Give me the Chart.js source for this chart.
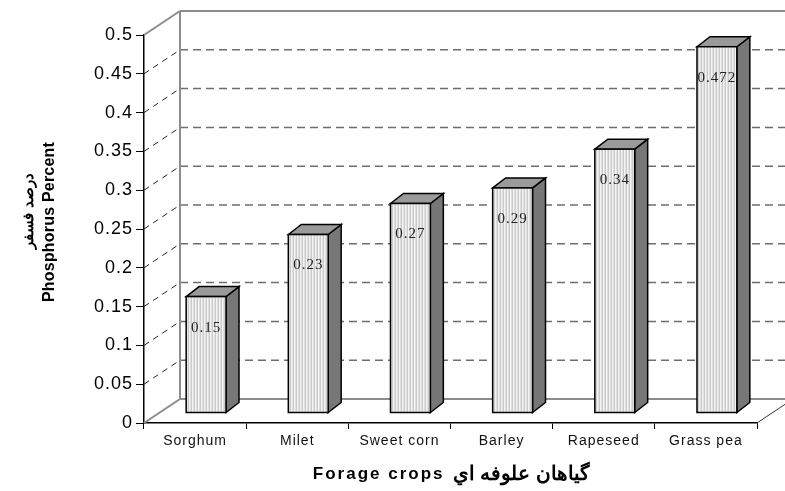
<!DOCTYPE html>
<html>
<head>
<meta charset="utf-8">
<script src="https://cdn.jsdelivr.net/npm/chart.js@4"></script>
<style>
  html, body { margin: 0; padding: 0; background: #fff; }
  #wrap { width: 785px; height: 491px; }
</style>
</head>
<body>
<div id="wrap"><canvas id="phChart"></canvas></div>
<script>
// Crop names and phosphorus values
const crops = ['Sorghum', 'Milet', 'Sweet corn', 'Barley', 'Rapeseed', 'Grass pea'];
const phosphorus = [0.15, 0.23, 0.27, 0.29, 0.34, 0.472];
const yTicks = [0, 0.05, 0.1, 0.15, 0.2, 0.25, 0.3, 0.35, 0.4, 0.45, 0.5];
const xTitleFa = 'گیاهان علوفه اي';
const xTitleEn = 'Forage crops';
const yTitleFa = 'درصد فسفر';
const yTitleEn = 'Phosphorus Percent';

// 3D look (pixels)
const wall = { dx: 36, dy: -24 };      // depth of the chart box
const barShift = { dx: 11, dy: -10 };  // bars stand inside the box
const barDepth = { dx: 13, dy: -10 };

// vertical stripe fill for the bar faces
function stripes() {
    const c = document.createElement('canvas');
    c.width = 3; c.height = 1;
    const g = c.getContext('2d');
    ['#f3f3f3', '#e0e0e0', '#cbcbcb'].forEach((col, i) => {
        g.fillStyle = col;
        g.fillRect(i, 0, 1, 1);
    });
    return g.createPattern(c, 'repeat');
}

function line(ctx, x1, y1, x2, y2) {
    ctx.beginPath();
    ctx.moveTo(x1, y1);
    ctx.lineTo(x2, y2);
    ctx.stroke();
}

const box3d = {
    id: 'box3d',
    beforeDraw(chart) {
        // the original labels are a bit spaced out
        chart.ctx.letterSpacing = '1px';
    },
    beforeDatasetsDraw(chart) {
        const { ctx, chartArea: a, scales: { y } } = chart;
        ctx.save();
        yTicks.forEach(v => {
            const py = y.getPixelForValue(v);
            const edge = v === 0 || v === 0.5;
            // back wall line
            ctx.setLineDash(edge ? [] : [8, 5]);
            ctx.strokeStyle = edge ? '#8c8c8c' : '#6e6e6e';
            ctx.lineWidth = edge ? 2 : 1.5;
            line(ctx, a.left + wall.dx, py + wall.dy, chart.width, py + wall.dy);
            // side wall diagonal
            ctx.setLineDash(edge ? [] : [6, 5]);
            ctx.strokeStyle = edge ? '#8c8c8c' : '#222';
            ctx.lineWidth = edge ? 2 : 1;
            line(ctx, a.left, py, a.left + wall.dx, py + wall.dy);
        });
        ctx.setLineDash([]);
        ctx.strokeStyle = '#8c8c8c';
        ctx.lineWidth = 2;
        line(ctx, a.left + wall.dx, y.getPixelForValue(0) + wall.dy,
             a.left + wall.dx, y.getPixelForValue(0.5) + wall.dy);
        // floor right edge
        ctx.strokeStyle = '#333';
        ctx.lineWidth = 1;
        line(ctx, a.right, a.bottom, a.right + wall.dx, a.bottom + wall.dy);
        ctx.restore();
    },
    afterDatasetsDraw(chart) {
        const { ctx } = chart;
        const meta = chart.getDatasetMeta(0);
        const fill = stripes();
        ctx.save();
        ctx.lineWidth = 1.5;
        ctx.strokeStyle = '#000';
        meta.data.forEach((bar, i) => {
            const w = bar.width;
            const x0 = bar.x - w / 2 + barShift.dx, x1 = x0 + w;
            const top = bar.y + barShift.dy, bot = bar.base + barShift.dy;
            // side
            ctx.fillStyle = '#777';
            ctx.beginPath();
            ctx.moveTo(x1, top);
            ctx.lineTo(x1 + barDepth.dx, top + barDepth.dy);
            ctx.lineTo(x1 + barDepth.dx, bot + barDepth.dy);
            ctx.lineTo(x1, bot);
            ctx.closePath();
            ctx.fill(); ctx.stroke();
            // top
            ctx.fillStyle = '#9a9a9a';
            ctx.beginPath();
            ctx.moveTo(x0, top);
            ctx.lineTo(x0 + barDepth.dx, top + barDepth.dy);
            ctx.lineTo(x1 + barDepth.dx, top + barDepth.dy);
            ctx.lineTo(x1, top);
            ctx.closePath();
            ctx.fill(); ctx.stroke();
            // front
            ctx.fillStyle = fill;
            ctx.fillRect(x0, top, w, bot - top);
            ctx.strokeRect(x0, top, w, bot - top);
            // value label
            ctx.fillStyle = '#222';
            ctx.font = '15px "Liberation Serif", serif';
            ctx.letterSpacing = '1px';
            ctx.textAlign = 'center';
            ctx.textBaseline = 'middle';
            ctx.fillText(String(phosphorus[i]), x0 + w / 2, top + 31);
        });
        ctx.restore();
    },
    afterDraw(chart) {
        const { ctx, chartArea: a } = chart;
        ctx.save();
        ctx.fillStyle = '#000';
        ctx.textBaseline = 'middle';
        // x title: English on the left, Persian on the right
        const mid = (a.left + a.right) / 2;
        ctx.letterSpacing = '2px';
        ctx.font = 'bold 17px "Liberation Sans", Arial, sans-serif';
        ctx.textAlign = 'right';
        ctx.fillText(xTitleEn, mid - 6, 474);
        ctx.letterSpacing = '0px';
        ctx.font = 'bold 20px "Liberation Sans", Arial, sans-serif';
        ctx.textAlign = 'left';
        ctx.fillText(xTitleFa, mid + 2, 474);
        // y title, rotated
        ctx.textAlign = 'center';
        ctx.save();
        ctx.translate(29, 211);
        ctx.rotate(-Math.PI / 2);
        ctx.letterSpacing = '0px';
        ctx.font = 'bold 15px "Liberation Sans", Arial, sans-serif';
        ctx.fillText(yTitleFa, 0, 0);
        ctx.restore();
        ctx.save();
        ctx.translate(50, 222);
        ctx.rotate(-Math.PI / 2);
        ctx.letterSpacing = '0.2px';
        ctx.font = 'bold 16px "Liberation Sans", Arial, sans-serif';
        ctx.fillText(yTitleEn, 0, 0);
        ctx.restore();
        ctx.restore();
    }
};

const ctx = document.getElementById('phChart').getContext('2d');
const phChart = new Chart(ctx, {
    type: 'bar',
    data: {
        labels: crops,
        datasets: [{
            data: phosphorus,
            backgroundColor: 'rgba(0,0,0,0)',
            borderWidth: 0,
            categoryPercentage: 1,
            barPercentage: 0.39
        }]
    },
    options: {
        responsive: true,
        maintainAspectRatio: false,
        animation: false,
        layout: { padding: { top: 35, right: 28, left: 0, bottom: 0 } },
        plugins: { legend: { display: false }, tooltip: { enabled: false } },
        scales: {
            x: {
                afterFit: s => { s.height = 68; },
                border: { color: '#000', width: 1.5 },
                grid: { offset: true, drawOnChartArea: false, color: '#000', tickLength: 6 },
                ticks: { color: '#111', padding: 4, font: { family: '"Liberation Sans", Arial', size: 14 }, maxRotation: 0 }
            },
            y: {
                min: 0,
                max: 0.5,
                afterFit: s => { s.width = 144; },
                afterBuildTicks: s => { s.ticks = yTicks.map(v => ({ value: v })); },
                border: { color: '#000', width: 1.5 },
                grid: { drawOnChartArea: false, color: '#000', tickLength: 8 },
                ticks: {
                    color: '#000',
                    font: { family: '"Liberation Sans", Arial', size: 18 },
                    callback: v => String(v)
                }
            }
        }
    },
    plugins: [box3d]
});
</script>
</body>
</html>
